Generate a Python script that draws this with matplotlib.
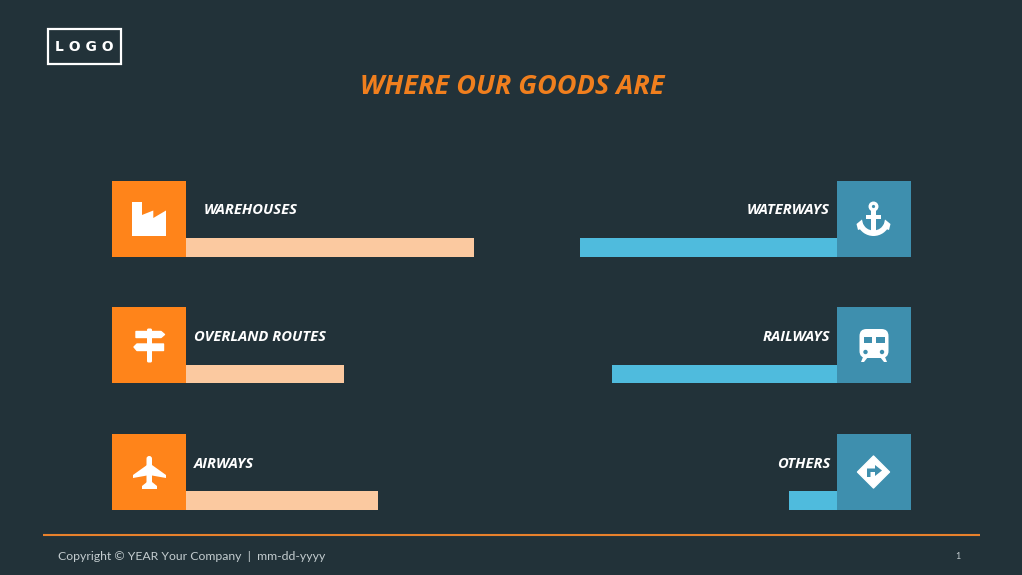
import matplotlib
matplotlib.use("Agg")
import matplotlib.pyplot as plt
from matplotlib.patches import Rectangle, Polygon, Circle, Wedge, FancyBboxPatch

# Data (bar lengths, arbitrary units)
left_categories = ["WAREHOUSES", "OVERLAND ROUTES", "AIRWAYS"]
left_values = [288, 158, 192]
right_categories = ["WATERWAYS", "RAILWAYS", "OTHERS"]
right_values = [257, 225, 48]
title_text = "WHERE OUR GOODS ARE"
footer_text = "Copyright © YEAR Your Company  |  mm-dd-yyyy"
page_text = "1"

BG = "#223239"
ORANGE = "#FF841A"
PEACH = "#FBC9A0"
BLUE = "#4FBBDD"
TEAL = "#3E8FAE"
TITLE = "#F07F1E"
W = 1022
H = 575

fig = plt.figure(figsize=(W / 100, H / 100), dpi=100, facecolor=BG)


def px_axes(x0, y0, x1, y1, **kw):
    return fig.add_axes([x0 / W, 1 - y1 / H, (x1 - x0) / W, (y1 - y0) / H], **kw)


# Overlay with pixel coordinates for decoration
ov = px_axes(0, 0, W, H)
ov.set_xlim(0, W)
ov.set_ylim(H, 0)
ov.axis("off")

# Bar axes: one unit of value = one pixel, rows 126.5 px apart
for x0, x1, xlim, vals, col in [
    (186, 486, (0, 300), left_values, PEACH),
    (537, 837, (300, 0), right_values, BLUE),
]:
    a = px_axes(x0, 238, x1, 510)
    a.patch.set_alpha(0)
    a.barh(range(3), vals, height=0.15, color=col, linewidth=0)
    a.set_xlim(*xlim)
    a.set_ylim(2.075, -0.075)
    a.axis("off")

# Icon squares
row_tops = [181, 307, 434]
for t in row_tops:
    ov.add_patch(Rectangle((112, t), 74, 76, fc=ORANGE, lw=0))
    ov.add_patch(Rectangle((837, t), 74, 76, fc=TEAL, lw=0))

WHITE = "white"
FONT = ["Open Sans", "DejaVu Sans"]

# Factory
ov.add_patch(Polygon([(132, 202), (142, 202), (142, 215), (153.3, 210.5), (153.3, 218),
                      (166, 210.5), (166, 236), (132, 236)], fc=WHITE, lw=0))

# Signpost
ov.add_patch(FancyBboxPatch((147, 328.5), 5, 34, boxstyle="round,pad=0,rounding_size=1.5", fc=WHITE, lw=0))
ov.add_patch(Polygon([(136, 331.5), (161, 331.5), (164.5, 334.5), (161, 337.5), (136, 337.5)], fc=WHITE, ec=WHITE, lw=1, joinstyle="round"))
ov.add_patch(Polygon([(137, 344), (163.5, 344), (163.5, 350.5), (137, 350.5), (134, 347)], fc=WHITE, ec=WHITE, lw=1, joinstyle="round"))

# Plane
ov.add_patch(FancyBboxPatch((146.5, 456), 5.5, 32, boxstyle="round,pad=0,rounding_size=2.7", fc=WHITE, lw=0))
ov.add_patch(Polygon([(147, 465), (152, 465), (166, 475), (166, 478), (152, 475.5), (147, 475.5), (133, 478), (133, 475)], fc=WHITE, lw=0))
ov.add_patch(Polygon([(147, 482), (152, 482), (157, 486), (157, 489), (142, 489), (142, 486)], fc=WHITE, lw=0))

# Anchor
ov.add_patch(Circle((873.5, 206.5), 3.3, fc="none", ec=WHITE, lw=2.4))
ov.add_patch(Rectangle((871, 210), 5, 25, fc=WHITE, lw=0))
ov.add_patch(Rectangle((866, 215), 15, 4, fc=WHITE, lw=0))
ov.add_patch(Wedge((873.5, 219), 17, 20, 160, width=5.5, fc=WHITE, lw=0))
ov.add_patch(Polygon([(856.5, 224), (862, 219.5), (864, 228), (858, 230)], fc=WHITE, lw=0))
ov.add_patch(Polygon([(890.5, 224), (885, 219.5), (883, 228), (889, 230)], fc=WHITE, lw=0))

# Train
ov.add_patch(FancyBboxPatch((859.5, 329), 29, 29, boxstyle="round,pad=0,rounding_size=7", fc=WHITE, lw=0))
ov.add_patch(Rectangle((863.5, 336.5), 8.5, 6, fc=TEAL, lw=0))
ov.add_patch(Rectangle((876, 336.5), 8.5, 6, fc=TEAL, lw=0))
ov.add_patch(Circle((865.5, 352), 2.2, fc=TEAL, lw=0))
ov.add_patch(Circle((882, 352), 2.2, fc=TEAL, lw=0))
ov.add_patch(Polygon([(863, 357), (868, 357), (864, 362), (861, 362)], fc=WHITE, lw=0))
ov.add_patch(Polygon([(880, 357), (885, 357), (887, 362), (884, 362)], fc=WHITE, lw=0))

# Direction sign
ov.add_patch(Polygon([(873.5, 456), (889.5, 472), (873.5, 488), (857.5, 472)], fc=WHITE, ec=WHITE, lw=1, joinstyle="round"))
ov.add_patch(Polygon([(867, 477), (867, 468.5), (875, 468.5), (875, 465), (882, 470.5),
                      (875, 476), (875, 472), (870.5, 472), (870.5, 477)], fc=TEAL, lw=0))

# Row labels
for name, x, y in zip(left_categories, [204, 194, 194], [210, 337, 464]):
    ov.text(x, y, name, color=WHITE, fontsize=10.6, fontweight="bold", fontstyle="italic",
            family=FONT, ha="left", va="center")
for name, y in zip(right_categories, [210, 337, 464]):
    ov.text(830, y, name, color=WHITE, fontsize=10.6, fontweight="bold", fontstyle="italic",
            family=FONT, ha="right", va="center")

# Title
ov.text(512.5, 87.5, title_text, color=TITLE, fontsize=19.5, fontweight="bold", fontstyle="italic",
        family=FONT, ha="center", va="center")

# Logo
ov.add_patch(Rectangle((48, 29), 73, 35, fc="none", ec=WHITE, lw=1.6))
ov.text(84.5, 47, "L O G O", color=WHITE, fontsize=10, fontweight="bold", family="DejaVu Sans",
        ha="center", va="center")

# Footer
ov.plot([43, 980], [535, 535], color="#E8812C", lw=1.5, solid_capstyle="butt")
ov.text(58, 556.5, footer_text, color="#C3CCCF", fontsize=8.85, family=["Lato", "DejaVu Sans"],
        ha="left", va="center")
ov.text(958, 556.5, page_text, color="#C3CCCF", fontsize=6.5, family=["Lato", "DejaVu Sans"],
        ha="center", va="center")

fig.savefig("out.png", dpi=100, facecolor=BG)
